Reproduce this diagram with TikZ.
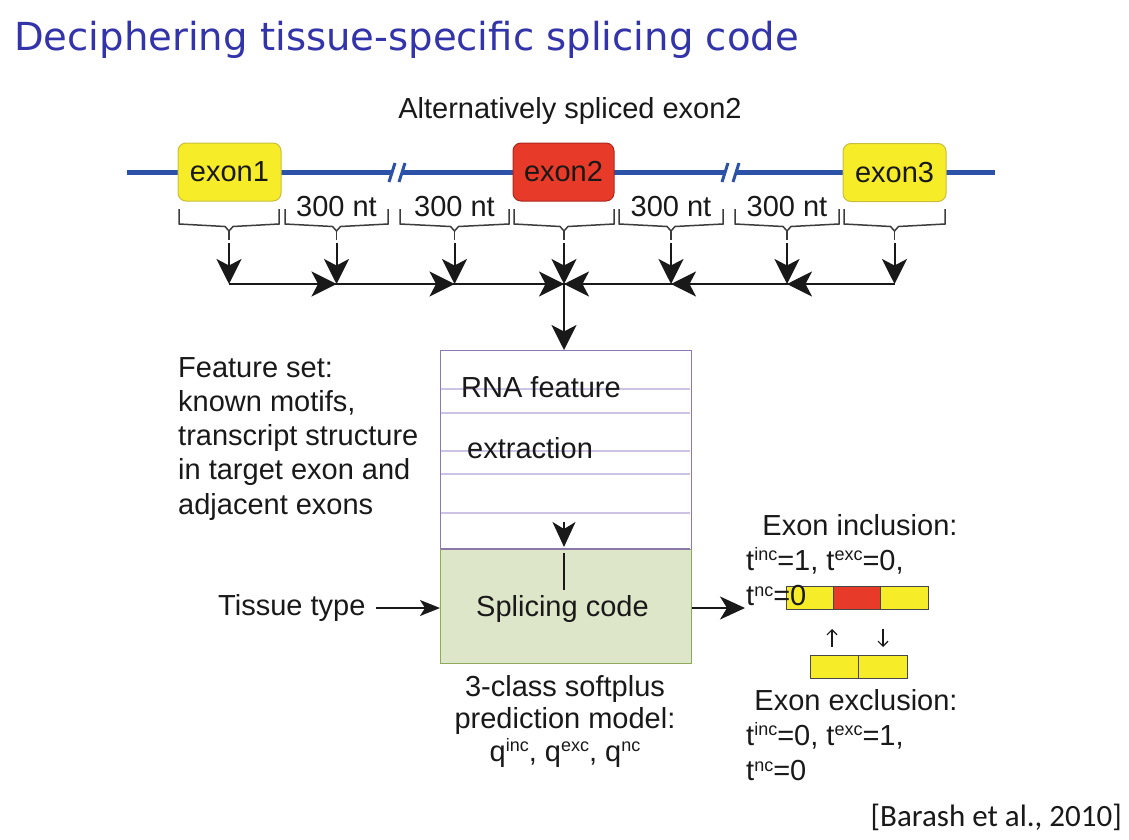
\documentclass[tikz,border=0pt]{standalone}
\usepackage{fontspec}
\setmainfont{Liberation Sans}
\newfontfamily\titlefont{DejaVu Sans}
\newfontfamily\citefont{Carlito}
\usetikzlibrary{arrows.meta}
\definecolor{titleblue}{RGB}{51,51,170}
\definecolor{lineblue}{RGB}{44,82,168}
\definecolor{exyellow}{RGB}{247,236,40}
\definecolor{exyellowd}{RGB}{200,190,60}
\definecolor{exred}{RGB}{232,58,40}
\definecolor{exredd}{RGB}{170,40,30}
\definecolor{txt}{RGB}{25,25,25}
\definecolor{purp}{RGB}{140,120,180}
\definecolor{lpurp}{RGB}{205,195,228}
\definecolor{gfill}{RGB}{221,230,200}
\definecolor{gdraw}{RGB}{140,170,90}
\newcommand\mysup[1]{\raisebox{0.33em}{\fontsize{18}{18}\selectfont #1}}
\tikzset{
  body/.style={font=\fontsize{29}{34}\selectfont, text=txt, inner sep=0pt},
  exonbox/.style={rounded corners=8pt, line width=1pt, minimum width=103pt, minimum height=58pt, inner sep=0pt, font=\fontsize{29}{34}\selectfont, text=txt},
  bigarrow/.style={line width=2pt, draw=txt, -{Stealth[length=25pt,width=25pt,inset=6.5pt]}},
  bracepath/.style={line width=1.5pt, draw=txt!85},
  thinarrow/.style={line width=1.6pt, draw=txt, -{Stealth[length=20pt,width=16pt,inset=5pt]}},
  smallarrow/.style={line width=1.2pt, draw=txt, -{Straight Barb[length=5pt,width=10pt]}},
  barbox/.style={draw=txt!80, line width=1pt, inner sep=0pt, minimum height=23pt, anchor=north west}
}
\begin{document}
\begin{tikzpicture}[x=1pt,y=-1pt]
\useasboundingbox[fill=white] (0,0) rectangle (1129,840);

% title
\node[anchor=west, inner sep=0pt, text=titleblue, font=\titlefont\fontsize{38.6}{40}\selectfont] (title) at (14,40) {Deciphering tissue-specific splicing code};

\node[body] (alt) at (570,111) {Alternatively spliced exon2};

% blue line
\draw[lineblue, line width=5pt] (127,172) -- (392,172);
\draw[lineblue, line width=5pt] (402,172) -- (725,172);
\draw[lineblue, line width=5pt] (736,172) -- (995,172);
\draw[lineblue, line width=3pt] (389,182) -- (395,163);
\draw[lineblue, line width=3pt] (399,182) -- (405,163);
\draw[lineblue, line width=3pt] (722,182) -- (728,163);
\draw[lineblue, line width=3pt] (733,182) -- (739,163);

% exons
\node[exonbox, fill=exyellow, draw=exyellowd] (ex1) at (229.5,172) {\raisebox{-3pt}{exon1}};
\node[exonbox, fill=exred, draw=exredd, minimum width=101pt] (ex2) at (563.5,172) {\raisebox{-3pt}{exon2}};
\node[exonbox, fill=exyellow, draw=exyellowd] (ex3) at (894.5,172.5) {\raisebox{-3pt}{exon3}};

% 300 nt labels
\foreach \cx/\n in {336.5/a, 454.5/b, 671/c, 787/d}
  \node[body] (nt\n) at (\cx,207) {300 nt};

% braces and arrows
\foreach \a/\b/\i in {179/279/1, 285/388/2, 400/509/3, 514/614/4, 619/723/5, 735/839/6, 844/945/7}{
  \pgfmathsetmacro\m{(\a+\b)/2}
  \draw[bracepath] (\a,209) -- (\a,224) -- (\m-4,226.5) -- (\m,231) -- (\m+4,226.5) -- (\b,224) -- (\b,209);
  \draw[bracepath] (\m,231) -- (\m,240);
  \coordinate (s\i) at (\m,243);
  \coordinate (h\i) at (\m,284);
  \draw[bigarrow] (s\i) -- (h\i);
}
\draw[line width=2pt, draw=txt] (h1) -- (h7);
\draw[bigarrow] (h1) -- (h2);
\draw[bigarrow] (h2) -- (h3);
\draw[bigarrow] (h3) -- (h4);
\draw[bigarrow] (h7) -- (h6);
\draw[bigarrow] (h6) -- (h5);
\draw[bigarrow] (h5) -- (h4);

% RNA feature box
\node[draw=purp, line width=1.2pt, fill=white, minimum width=251pt, minimum height=199pt, inner sep=0pt, anchor=north west] (rna) at (440,350) {};
\foreach \yy in {389,413,451,474,513}
  \draw[lpurp, line width=1.2pt] (441,\yy) -- (690,\yy);
\draw[bigarrow] (h4) -- (h4 |- rna.north);
\node[body, anchor=west] (rnat) at (461,387) {RNA feature};
\node[body, anchor=west] (ext) at (467,448) {extraction};

% splicing code box
\node[draw=gdraw, line width=1.2pt, fill=gfill, minimum width=251pt, minimum height=114pt, inner sep=0pt, anchor=north west] (sc) at (440,549) {};
\draw[purp!70!gray, line width=2pt] (441,549) -- (690,549);
\node[body, anchor=west] (sct) at (476,609) {Splicing code};
\coordinate (inA) at (564,522);
\coordinate (inB) at (564,547);
\coordinate (inC) at (564,553);
\coordinate (inD) at (564,590);
\draw[line width=1.8pt, draw=txt, -{Stealth[length=25pt,width=23pt,inset=7pt]}] (inA) -- (inB);
\draw[line width=1.8pt, draw=txt] (inC) -- (inD);

% left texts
\node[body, anchor=west] (f1) at (178,368) {Feature set:};
\node[body, anchor=west] (f2) at (178,403) {known motifs,};
\node[body, anchor=west] (f3) at (178,438) {transcript structure};
\node[body, anchor=west] (f4) at (178,472) {in target exon and};
\node[body, anchor=west] (f5) at (178,507) {adjacent exons};

\node[body, anchor=west] (tt) at (218,608) {Tissue type};
\coordinate (ttA) at (376,608);
\draw[thinarrow] (ttA) -- (sc.west |- ttA);

% below text
\node[body] (m1) at (565,689) {3-class softplus};
\node[body] (m2) at (565,721) {prediction model:};
\node[body] (m3) at (565,753) {q\mysup{inc}, q\mysup{exc}, q\mysup{nc}};

% output arrow
\coordinate (outB) at (745,608);
\draw[line width=2pt, draw=txt, -{Stealth[length=25pt,width=23pt,inset=7pt]}] (sc.east |- outB) -- (outB);

% bars
\node[barbox, fill=exyellow, minimum width=47pt] (b1) at (786,586) {};
\node[barbox, fill=exred, minimum width=47pt] (b2) at (833,586) {};
\node[barbox, fill=exyellow, minimum width=48pt] (b3) at (880,586) {};
\node[barbox, fill=exyellow, minimum width=48pt] (c1) at (810,655) {};
\node[barbox, fill=exyellow, minimum width=49pt] (c2) at (858,655) {};

\coordinate (uA) at (832,647);
\coordinate (uB) at (832,629);
\coordinate (dA) at (883,629);
\coordinate (dB) at (883,647);
\draw[smallarrow] (uA) -- (uB);
\draw[smallarrow] (dA) -- (dB);

% right texts
\node[body] (inc) at (860,525) {Exon inclusion:};
\node[body, anchor=west] (inc1) at (746,561) {t\mysup{inc}=1, t\mysup{exc}=0,};
\node[body, anchor=west] (inc2) at (746,596) {t\mysup{nc}=0};
\node[body] (exc) at (856,700) {Exon exclusion:};
\node[body, anchor=west] (exc1) at (746,736) {t\mysup{inc}=0, t\mysup{exc}=1,};
\node[body, anchor=west] (exc2) at (746,771) {t\mysup{nc}=0};

% citation
\node[anchor=east, inner sep=0pt, text=txt, font=\citefont\fontsize{31}{34}\selectfont] (cite) at (1122,817) {[Barash et al., 2010]};
\end{tikzpicture}
\end{document}
